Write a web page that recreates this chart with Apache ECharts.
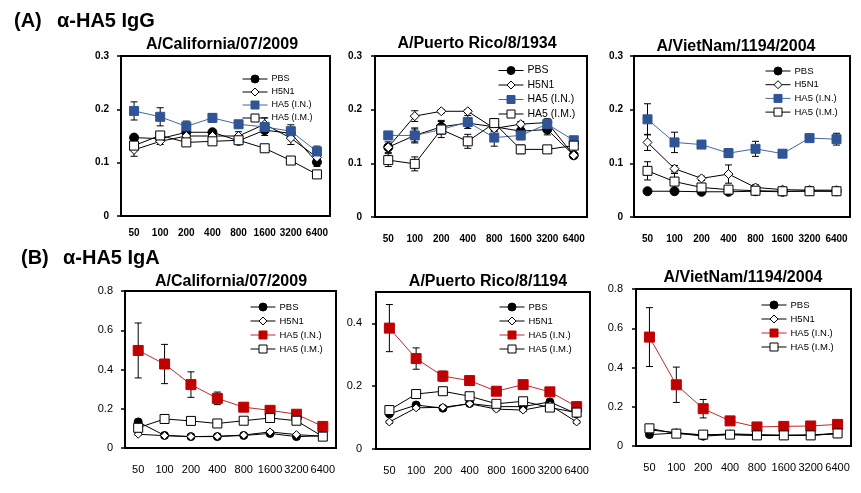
<!DOCTYPE html>
<html>
<head>
<meta charset="utf-8">
<script src="https://cdn.jsdelivr.net/npm/echarts@6/dist/echarts.min.js"></script>
<style>html,body{margin:0;padding:0;background:#fff}#c{width:861px;height:493px}</style>
</head>
<body>
<div id="c"></div>
<script>
// ---------- data ----------
const doses = ['50', '100', '200', '400', '800', '1600', '3200', '6400'];
const seriesNames = ['PBS', 'H5N1', 'HA5 (I.N.)', 'HA5 (I.M.)'];
const panelTitles = ['A/California/07/2009', 'A/Puerto Rico/8/1934', 'A/VietNam/1194/2004',
                     'A/California/07/2009', 'A/Puerto Rico/8/1194', 'A/VietNam/1194/2004'];
const yTicksIgG = [0, 0.1, 0.2, 0.3];
const yTicksIgA = [0, 0.2, 0.4, 0.6, 0.8];
const yTicksIgAPR = [0, 0.2, 0.4];

// (A) IgG - California
const iggCalPBS  = [0.147, 0.145, 0.157, 0.157, 0.141, 0.161, 0.155, 0.101];
const iggCalH5N1 = [0.124, 0.140, 0.150, 0.150, 0.150, 0.172, 0.146, 0.110];
const iggCalIN   = [0.197, 0.186, 0.168, 0.184, 0.172, 0.167, 0.159, 0.121];
const iggCalIM   = [0.132, 0.151, 0.138, 0.140, 0.142, 0.127, 0.104, 0.078];
const iggCalPBSErr  = [0.004, 0.004, 0.006, 0.004, 0.004, 0.010, 0.008, 0.008];
const iggCalH5N1Err = [0.012, 0.006, 0.004, 0.004, 0.008, 0.012, 0.012, 0.006];
const iggCalINErr   = [0.017, 0.017, 0.010, 0.008, 0.005, 0.006, 0.012, 0.010];
const iggCalIMErr   = [0.004, 0.006, 0.004, 0.004, 0.004, 0.004, 0.004, 0.004];

// (A) IgG - Puerto Rico
const iggPrPBS  = [0.130, 0.152, 0.168, 0.175, 0.168, 0.160, 0.163, 0.115];
const iggPrH5N1 = [0.130, 0.188, 0.197, 0.197, 0.165, 0.173, 0.176, 0.115];
const iggPrIN   = [0.152, 0.152, 0.163, 0.177, 0.148, 0.152, 0.173, 0.143];
const iggPrIM   = [0.106, 0.099, 0.163, 0.141, 0.175, 0.126, 0.126, 0.133];
const iggPrPBSErr  = [0.010, 0.012, 0.012, 0.005, 0.008, 0.005, 0.010, 0.005];
const iggPrH5N1Err = [0.005, 0.010, 0.003, 0.003, 0.005, 0.005, 0.005, 0.005];
const iggPrINErr   = [0.005, 0.014, 0.015, 0.012, 0.016, 0.008, 0.010, 0.005];
const iggPrIMErr   = [0.012, 0.013, 0.008, 0.013, 0.008, 0.008, 0.003, 0.005];

// (A) IgG - VietNam
const iggVnPBS  = [0.048, 0.048, 0.047, 0.047, 0.048, 0.047, 0.049, 0.048];
const iggVnH5N1 = [0.139, 0.090, 0.072, 0.080, 0.055, 0.051, 0.050, 0.050];
const iggVnIN   = [0.182, 0.139, 0.135, 0.119, 0.127, 0.118, 0.147, 0.145];
const iggVnIM   = [0.086, 0.066, 0.055, 0.051, 0.049, 0.048, 0.048, 0.048];
const iggVnPBSErr  = [0.003, 0.003, 0.003, 0.003, 0.003, 0.003, 0.003, 0.003];
const iggVnH5N1Err = [0.015, 0.006, 0.004, 0.017, 0.005, 0.003, 0.003, 0.003];
const iggVnINErr   = [0.029, 0.019, 0.005, 0.008, 0.014, 0.004, 0.004, 0.011];
const iggVnIMErr   = [0.017, 0.015, 0.004, 0.003, 0.003, 0.006, 0.003, 0.003];

// (B) IgA - California
const igaCalPBS  = [0.133, 0.064, 0.058, 0.058, 0.064, 0.074, 0.058, 0.062];
const igaCalH5N1 = [0.070, 0.063, 0.058, 0.060, 0.066, 0.082, 0.068, 0.060];
const igaCalIN   = [0.497, 0.428, 0.323, 0.253, 0.208, 0.192, 0.172, 0.110];
const igaCalIM   = [0.103, 0.148, 0.138, 0.125, 0.139, 0.153, 0.139, 0.058];
const igaCalPBSErr  = [0.005, 0.005, 0.005, 0.005, 0.005, 0.005, 0.005, 0.005];
const igaCalH5N1Err = [0.005, 0.005, 0.005, 0.005, 0.005, 0.005, 0.005, 0.005];
const igaCalINErr   = [0.140, 0.100, 0.065, 0.032, 0.010, 0.010, 0.010, 0.010];
const igaCalIMErr   = [0.005, 0.005, 0.005, 0.005, 0.005, 0.005, 0.005, 0.005];

// (B) IgA - Puerto Rico
const igaPrPBS  = [0.112, 0.140, 0.130, 0.145, 0.135, 0.135, 0.150, 0.112];
const igaPrH5N1 = [0.086, 0.131, 0.133, 0.144, 0.127, 0.124, 0.140, 0.086];
const igaPrIN   = [0.385, 0.288, 0.232, 0.218, 0.184, 0.205, 0.182, 0.135];
const igaPrIM   = [0.124, 0.175, 0.184, 0.168, 0.144, 0.152, 0.132, 0.116];
const igaPrPBSErr  = [0.005, 0.005, 0.005, 0.005, 0.005, 0.005, 0.005, 0.005];
const igaPrH5N1Err = [0.005, 0.005, 0.005, 0.005, 0.005, 0.005, 0.005, 0.005];
const igaPrINErr   = [0.075, 0.034, 0.016, 0.008, 0.006, 0.006, 0.006, 0.006];
const igaPrIMErr   = [0.005, 0.005, 0.005, 0.005, 0.005, 0.005, 0.005, 0.005];

// (B) IgA - VietNam
const igaVnPBS  = [0.058, 0.066, 0.050, 0.058, 0.054, 0.054, 0.054, 0.063];
const igaVnH5N1 = [0.082, 0.068, 0.055, 0.062, 0.058, 0.055, 0.057, 0.063];
const igaVnIN   = [0.555, 0.312, 0.190, 0.128, 0.097, 0.100, 0.102, 0.110];
const igaVnIM   = [0.090, 0.063, 0.058, 0.058, 0.054, 0.054, 0.054, 0.064];
const igaVnPBSErr  = [0.005, 0.005, 0.005, 0.005, 0.005, 0.005, 0.005, 0.005];
const igaVnH5N1Err = [0.005, 0.005, 0.005, 0.005, 0.005, 0.005, 0.005, 0.005];
const igaVnINErr   = [0.150, 0.090, 0.047, 0.008, 0.006, 0.006, 0.006, 0.006];
const igaVnIMErr   = [0.005, 0.005, 0.005, 0.005, 0.005, 0.005, 0.005, 0.005];

// ---------- layout / styling ----------
const FONT = 'Liberation Sans';
const BLUE = '#2F5597', BLUE_LINE = '#46679A';
const RED = '#C00000', RED_LINE = '#C0282A';

const panels = [
  {vals:[iggCalPBS,iggCalH5N1,iggCalIN,iggCalIM], errs:[iggCalPBSErr,iggCalH5N1Err,iggCalINErr,iggCalIMErr],
   grid:{left:121, top:56, width:209, height:160}, ticks:yTicksIgG, max:0.3, accent:'blue',
   xMargin:12, yMargin:12, leg:{left:242, top:74, fs:9, gap:3}, title:[222,45], bold:true},
  {vals:[iggPrPBS,iggPrH5N1,iggPrIN,iggPrIM], errs:[iggPrPBSErr,iggPrH5N1Err,iggPrINErr,iggPrIMErr],
   grid:{left:375, top:56, width:212, height:161}, ticks:yTicksIgG, max:0.3, accent:'blue',
   xMargin:17, yMargin:13, leg:{left:498, top:65, fs:10.5, gap:3.5}, title:[477,44], bold:true},
  {vals:[iggVnPBS,iggVnH5N1,iggVnIN,iggVnIM], errs:[iggVnPBSErr,iggVnH5N1Err,iggVnINErr,iggVnIMErr],
   grid:{left:634, top:56, width:216, height:161}, ticks:yTicksIgG, max:0.3, accent:'blue',
   xMargin:17, yMargin:11, leg:{left:765, top:66, fs:9.5, gap:3.7}, title:[736,47], bold:true},
  {vals:[igaCalPBS,igaCalH5N1,igaCalIN,igaCalIM], errs:[igaCalPBSErr,igaCalH5N1Err,igaCalINErr,igaCalIMErr],
   grid:{left:125, top:291, width:211, height:157}, ticks:yTicksIgA, max:0.8, accent:'red',
   xMargin:16, yMargin:12, leg:{left:250, top:302, fs:9.5, gap:4}, title:[231,282], bold:false},
  {vals:[igaPrPBS,igaPrH5N1,igaPrIN,igaPrIM], errs:[igaPrPBSErr,igaPrH5N1Err,igaPrINErr,igaPrIMErr],
   grid:{left:376, top:292, width:214, height:157}, ticks:yTicksIgAPR, max:0.5, accent:'red',
   xMargin:16, yMargin:14, leg:{left:499, top:302, fs:9.5, gap:4}, title:[488,282], bold:false},
  {vals:[igaVnPBS,igaVnH5N1,igaVnIN,igaVnIM], errs:[igaVnPBSErr,igaVnH5N1Err,igaVnINErr,igaVnIMErr],
   grid:{left:636, top:289, width:215, height:157}, ticks:yTicksIgA, max:0.8, accent:'red',
   xMargin:16, yMargin:13, leg:{left:761, top:300, fs:9.5, gap:4}, title:[743,278], bold:false}
];

function seriesStyle(k, accent, isB) {
  if (k === 0) return {symbol:'circle', symbolSize: isB ? 8 : 9, color:'#000', border:'#000', line:'#000'};
  if (k === 1) return {symbol:'diamond', symbolSize: isB ? 8 : 9, color:'#fff', border:'#000', line:'#000'};
  if (k === 2) return accent === 'blue'
      ? {symbol:'rect', symbolSize:9, color:BLUE, border:BLUE, line:BLUE_LINE}
      : {symbol:'rect', symbolSize:10, color:RED, border:RED, line:RED_LINE};
  return {symbol:'rect', symbolSize: 9, color:'#fff', border:'#000', line:'#000'};
}

function renderErr(params, api) {
  const x = api.value(0), lo = api.value(1), hi = api.value(2);
  const p1 = api.coord([x, hi]);
  const p2 = api.coord([x, lo]);
  const w = 3.5;
  const st = {stroke:'#000', lineWidth:1};
  return {type:'group', children:[
    {type:'line', shape:{x1:p1[0], y1:p1[1], x2:p2[0], y2:p2[1]}, style:st},
    {type:'line', shape:{x1:p1[0]-w, y1:p1[1], x2:p1[0]+w, y2:p1[1]}, style:st},
    {type:'line', shape:{x1:p2[0]-w, y1:p2[1], x2:p2[0]+w, y2:p2[1]}, style:st}
  ]};
}

const grids = [], xAxes = [], yAxes = [], series = [], legends = [], graphics = [];

panels.forEach((p, i) => {
  const isB = i >= 3;
  grids.push(Object.assign({show:true, borderColor:'#000', borderWidth:2, containLabel:false}, p.grid));
  xAxes.push({type:'category', gridIndex:i, data:doses, boundaryGap:true,
    axisLine:{lineStyle:{color:'#000', width:2}},
    axisTick:{alignWithLabel:true, length:4, lineStyle:{color:'#000', width:1.5}},
    axisLabel:{interval:0, color:'#000', fontFamily:FONT, fontSize: isB ? 11 : 10,
               fontWeight: p.bold ? 'bold' : 'normal', margin:p.xMargin}});
  yAxes.push({type:'value', gridIndex:i, min:0, max:p.max, interval:0.2 * (isB ? 1 : 0.5),
    axisLine:{show:true, lineStyle:{color:'#000', width:2}},
    axisTick:{show:true, length:4, lineStyle:{color:'#000', width:1.5}},
    splitLine:{show:false},
    axisLabel:{color:'#000', fontFamily:FONT, fontSize: isB ? 11 : 10, fontWeight: p.bold ? 'bold' : 'normal',
               margin:p.yMargin, showMaxLabel: p.ticks[p.ticks.length-1] === p.max,
               formatter: v => p.ticks.some(t => Math.abs(t - v) < 1e-9) ? String(+v.toFixed(2)) : ''}});

  // error bars first (beneath)
  p.vals.forEach((vals, k) => {
    const errs = p.errs[k];
    series.push({type:'custom', xAxisIndex:i, yAxisIndex:i, z:1, silent:true,
      renderItem:renderErr, encode:{x:0, y:[1,2]},
      data: vals.map((v, j) => [j, v - errs[j], v + errs[j]])});
  });
  p.vals.forEach((vals, k) => {
    const s = seriesStyle(k, p.accent, isB);
    series.push({type:'line', name:seriesNames[k], xAxisIndex:i, yAxisIndex:i, z:3 + k,
      data: vals, symbol:s.symbol, symbolSize:s.symbolSize, showAllSymbol:true,
      lineStyle:{color:s.line, width:1},
      itemStyle:{color:s.color, borderColor:s.border, borderWidth:1, opacity:1},
      emphasis:{disabled:true}, animation:false});
  });

  const legData = seriesNames.map((n, k) => {
    const s = seriesStyle(k, p.accent, isB);
    return {name:n, itemStyle:{color:s.color, borderColor:s.border, borderWidth:1},
            lineStyle:{color:s.line, width:1}};
  });
  legends.push({orient:'vertical', left:p.leg.left, top:p.leg.top, itemWidth:25, itemHeight:10,
    itemGap:p.leg.gap, padding:0, data:legData, selectedMode:false,
    textStyle:{color:'#000', fontFamily:FONT, fontSize:p.leg.fs, lineHeight:10, padding:[0,0,0,-1]}});

  graphics.push({type:'text', x:p.title[0], y:p.title[1],
    style:{text:panelTitles[i], fill:'#000', font:'bold 16px "' + FONT + '"', textAlign:'center', textVerticalAlign:'middle'}});
});

graphics.push({type:'text', x:14, y:21, style:{text:'(A)', fill:'#000', font:'bold 20px "' + FONT + '"', textVerticalAlign:'middle'}});
graphics.push({type:'text', x:57, y:21, style:{text:'α-HA5 IgG', fill:'#000', font:'bold 20px "' + FONT + '"', textVerticalAlign:'middle'}});
graphics.push({type:'text', x:21, y:258, style:{text:'(B)', fill:'#000', font:'bold 20px "' + FONT + '"', textVerticalAlign:'middle'}});
graphics.push({type:'text', x:63, y:258, style:{text:'α-HA5 IgA', fill:'#000', font:'bold 20px "' + FONT + '"', textVerticalAlign:'middle'}});

const chart = echarts.init(document.getElementById('c'), null, {renderer:'canvas'});
chart.setOption({
  animation:false,
  backgroundColor:'#fff',
  grid:grids, xAxis:xAxes, yAxis:yAxes, series:series, legend:legends, graphic:graphics
});
</script>
</body>
</html>
